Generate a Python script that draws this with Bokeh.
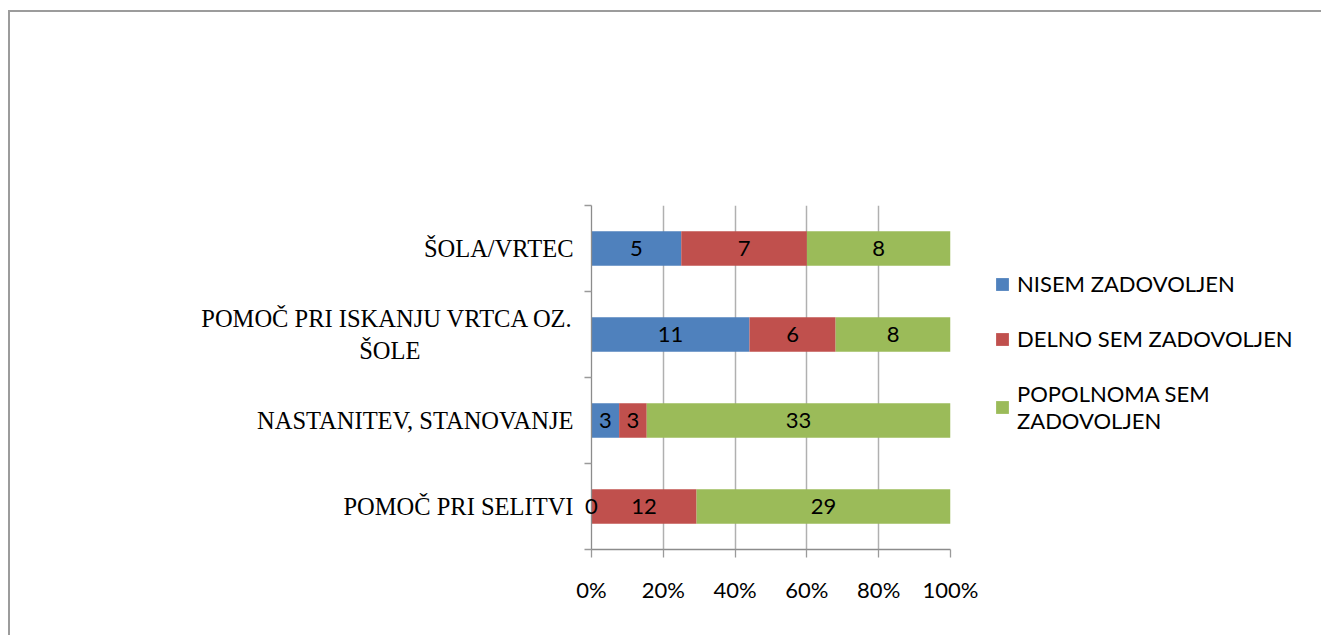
from bokeh.plotting import figure
from bokeh.models import (ColumnDataSource, Range1d, FixedTicker, PrintfTickFormatter,
                          Legend, LegendItem, Label)
from bokeh.embed import file_html
from bokeh.resources import INLINE

# ---- data (bottom to top) ----
categories = ["POMOČ PRI SELITVI", "NASTANITEV, STANOVANJE",
              "POMOČ PRI ISKANJU VRTCA OZ.\nŠOLE" + "\u00a0" * 25, "ŠOLA/VRTEC"]
nisem = [0, 3, 11, 5]
delno = [12, 3, 6, 7]
popolnoma = [29, 33, 8, 8]
series_names = ["NISEM ZADOVOLJEN", "DELNO SEM ZADOVOLJEN", "POPOLNOMA SEM\nZADOVOLJEN"]
colors = ["#4F81BD", "#C0504D", "#9BBB59"]
x_ticks = [0, 20, 40, 60, 80, 100]

p = figure(frame_width=359, frame_height=344, output_backend="svg", toolbar_location=None,
           x_range=Range1d(0, 100), y_range=Range1d(0, 4),
           min_border_left=581, min_border_top=193, min_border_right=369,
           min_border_bottom=86)
p.styles = {"border-left": "2px solid #9c9c9c", "border-top": "2px solid #9c9c9c",
            "margin-top": "10px", "margin-left": "8px"}
p.outline_line_color = None
p.background_fill_color = "white"
p.border_fill_color = "white"

ypos = [i + 0.5 for i in range(len(categories))]
series = [nisem, delno, popolnoma]
totals = [sum(v) for v in zip(*series)]
left = [0.0] * len(categories)
renderers = []
label_specs = []
for vals, col in zip(series, colors):
    pct = [100.0 * v / t for v, t in zip(vals, totals)]
    right = [l + q for l, q in zip(left, pct)]
    src = ColumnDataSource(dict(y=ypos, left=left, right=right))
    r = p.hbar(y="y", left="left", right="right", height=0.4, source=src,
               fill_color=col, line_color=None)
    renderers.append(r)
    for yv, l, rr, v in zip(ypos, left, right, vals):
        label_specs.append(((l + rr) / 2, yv, str(v), rr - l))
    left = right

for xm, yv, txt, w in label_specs:
    lab = Label(x=xm, y=yv, text=txt, text_align="center",
                text_baseline="middle", text_font="Lato",
                text_font_size="22px", text_color="black")
    if w == 0:
        p.add_layout(lab, "left")
    else:
        p.add_layout(lab)

# x axis
p.xaxis.ticker = FixedTicker(ticks=x_ticks, minor_ticks=[])
p.xaxis.formatter = PrintfTickFormatter(format="%d%%")
p.xaxis.axis_line_color = "#8c8c8c"
p.xaxis.axis_line_width = 1.3
p.xaxis.major_tick_line_color = "#9a9a9a"
p.xaxis.major_tick_line_width = 1.3
p.xaxis.major_tick_out = 8
p.xaxis.major_tick_in = 0
p.xaxis.minor_tick_line_color = None
p.xaxis.major_label_standoff = 18
p.xaxis.major_label_text_font = "Lato"
p.xaxis.major_label_text_font_size = "22px"
p.xaxis.major_label_text_color = "black"

# y axis
p.yaxis.ticker = FixedTicker(ticks=ypos, minor_ticks=[0, 1, 2, 3, 4])
p.yaxis.major_label_overrides = {y: c for y, c in zip(ypos, categories)}
p.yaxis.axis_line_color = "#8c8c8c"
p.yaxis.axis_line_width = 1.3
p.yaxis.major_tick_out = 0
p.yaxis.major_tick_in = 0
p.yaxis.major_tick_line_color = None
p.yaxis.minor_tick_out = 7
p.yaxis.minor_tick_in = 0
p.yaxis.minor_tick_line_color = "#9a9a9a"
p.yaxis.minor_tick_line_width = 1.3
p.yaxis.major_label_standoff = 11
p.yaxis.major_label_text_font = "Liberation Serif"
p.yaxis.major_label_text_font_size = "24.5px"
p.yaxis.major_label_text_color = "black"

# grid
p.ygrid.grid_line_color = None
p.xgrid.ticker = FixedTicker(ticks=x_ticks)
p.xgrid.grid_line_color = "#b0b0b0"
p.xgrid.grid_line_width = 1.5

legend = Legend(items=[LegendItem(label=n, renderers=[r]) for n, r in zip(series_names, renderers)],
                location=(44, 115), orientation="vertical",
                glyph_width=16, glyph_height=16, label_standoff=7,
                label_text_font="Lato", label_text_font_size="22px",
                label_text_color="black", spacing=28, padding=6, margin=0,
                border_line_color=None, background_fill_alpha=0)
p.add_layout(legend, "right")

open("out.html", "w").write(file_html(p, INLINE))
